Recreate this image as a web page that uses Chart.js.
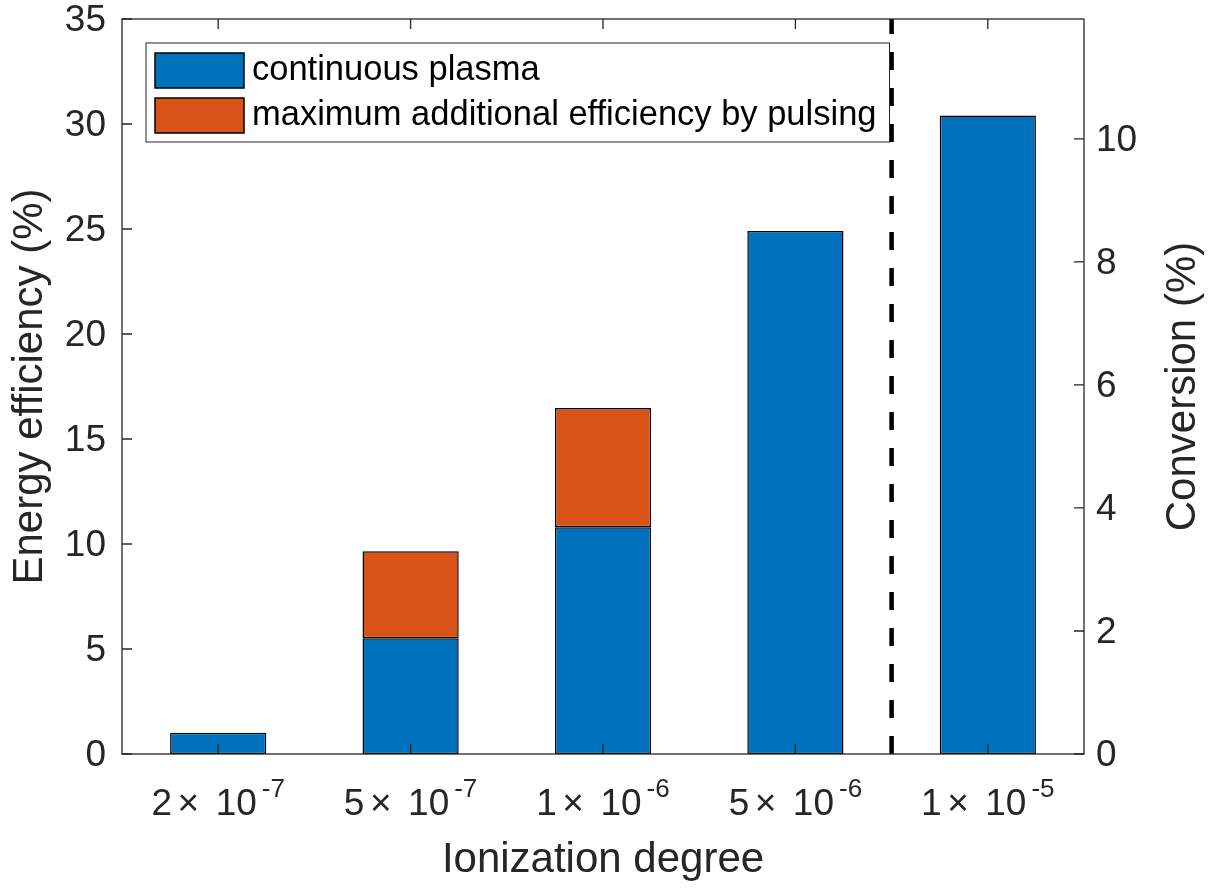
<!DOCTYPE html>
<html><head><meta charset="utf-8">
<script src="https://cdn.jsdelivr.net/npm/chart.js@4/dist/chart.umd.min.js"></script>
<style>html,body{margin:0;padding:0;background:#fff;} canvas{display:block;}</style>
</head><body>
<canvas id="c" width="1215" height="888"></canvas>
<script>
// ---- data ----
const categories = ['2×10^-7', '5×10^-7', '1×10^-6', '5×10^-6', '1×10^-5'];
const tickMantissas = ['2', '5', '1', '5', '1'];
const tickExponents = ['-7', '-7', '-6', '-6', '-5'];
const continuousPlasma = [1.01, 5.51, 10.8, 24.9, 30.4];
const pulsingExtra = [null, 4.14, 5.68, null, null];
const seriesNames = ['continuous plasma', 'maximum additional efficiency by pulsing'];
const leftAxisRange = [0, 35];
const leftAxisStep = 5;
const rightAxisRange = [0, 11.95];
const rightAxisStep = 2;
const separatorAt = 3.5; // between 5×10^-6 and 1×10^-5 (category index units)

// ---- style ----
const FONT = '"Liberation Sans", Arial, Helvetica, sans-serif';
const AXIS = '#262626';
const BLUE = '#0072BD';
const ORANGE = '#D95319';

const overlay = {
  id: 'overlay',
  afterDatasetsDraw(chart) {
    const { ctx, chartArea: a, scales } = chart;
    const x = scales.x, yl = scales.y, yr = scales.y2;
    ctx.save();
    // dashed separator line
    const sx = x.getPixelForValue(separatorAt);
    ctx.beginPath();
    ctx.setLineDash([18, 18]);
    ctx.lineWidth = 4.5;
    ctx.strokeStyle = '#000';
    ctx.moveTo(sx, a.bottom);
    ctx.lineTo(sx, a.top);
    ctx.stroke();
    ctx.setLineDash([]);

    // frame + inward ticks
    ctx.lineWidth = 1.3;
    ctx.strokeStyle = AXIS;
    ctx.strokeRect(a.left, a.top, a.right - a.left, a.bottom - a.top);
    ctx.beginPath();
    const TL = 10;
    yl.ticks.forEach(t => { const p = yl.getPixelForValue(t.value); ctx.moveTo(a.left, p); ctx.lineTo(a.left + TL, p); });
    yr.ticks.forEach(t => { const p = yr.getPixelForValue(t.value); ctx.moveTo(a.right, p); ctx.lineTo(a.right - TL, p); });
    x.ticks.forEach((t, i) => {
      const p = x.getPixelForTick(i);
      ctx.moveTo(p, a.bottom); ctx.lineTo(p, a.bottom - TL);
      ctx.moveTo(p, a.top); ctx.lineTo(p, a.top + TL);
    });
    ctx.stroke();

    // x tick labels with superscript exponents
    const mainF = `37px ${FONT}`, supF = `26px ${FONT}`;
    const baseY = a.bottom + 61, supY = baseY - 18;
    ctx.fillStyle = AXIS;
    ctx.textBaseline = 'alphabetic';
    ctx.textAlign = 'left';
    x.ticks.forEach((t, i) => {
      const p = x.getPixelForTick(i);
      const m = tickMantissas[i], e = tickExponents[i];
      ctx.font = mainF;
      const wm = ctx.measureText(m).width, wx = ctx.measureText('×').width, w10 = ctx.measureText('10').width;
      ctx.font = supF;
      const ws = ctx.measureText(e).width;
      const g1 = 5.5, g2 = 16.5, g3 = 5;
      const total = wm + g1 + wx + g2 + w10 + g3 + ws;
      let cx = p - total / 2;
      ctx.font = mainF;
      ctx.fillText(m, cx, baseY); cx += wm + g1;
      ctx.fillText('×', cx, baseY); cx += wx + g2;
      ctx.fillText('10', cx, baseY); cx += w10 + g3;
      ctx.font = supF;
      ctx.fillText(e, cx, supY);
    });

    // right axis title (reads bottom to top)
    ctx.save();
    ctx.translate(1195, (a.top + a.bottom) / 2);
    ctx.rotate(-Math.PI / 2);
    ctx.font = `42px ${FONT}`;
    ctx.textAlign = 'center';
    ctx.textBaseline = 'alphabetic';
    ctx.fillStyle = AXIS;
    ctx.fillText('Conversion (%)', 0, 0);
    ctx.restore();

    // legend
    const ds = chart.data.datasets;
    const lx = a.left + 24, ly = a.top + 24;
    const swX = lx + 9, swW = 89, swH = 35, rowH = 45, txX = lx + 106;
    ctx.font = `34.5px ${FONT}`;
    let maxW = 0;
    ds.forEach(d => { maxW = Math.max(maxW, ctx.measureText(d.label).width); });
    const lw = (txX - lx) + maxW + 13, lh = 99;
    ctx.fillStyle = '#fff';
    ctx.fillRect(lx, ly, lw, lh);
    ctx.lineWidth = 1;
    ctx.strokeStyle = AXIS;
    ctx.strokeRect(lx, ly, lw, lh);
    ds.forEach((d, i) => {
      const sy = ly + 10 + i * rowH;
      ctx.fillStyle = d.backgroundColor;
      ctx.fillRect(swX, sy, swW, swH);
      ctx.lineWidth = 1.5;
      ctx.strokeStyle = '#000';
      ctx.strokeRect(swX, sy, swW, swH);
      ctx.fillStyle = '#000';
      ctx.textBaseline = 'middle';
      ctx.textAlign = 'left';
      ctx.fillText(d.label, txX, sy + swH / 2);
    });
    ctx.restore();
  }
};

function fixVertical(width) {
  return function (s) { s.width = width; s.paddingTop = 0; s.paddingBottom = 0; };
}

new Chart(document.getElementById('c'), {
  type: 'bar',
  data: {
    labels: categories,
    datasets: [
      { label: seriesNames[0], data: continuousPlasma, backgroundColor: BLUE, borderColor: '#000', borderWidth: 1.5, borderSkipped: false, barPercentage: 0.5, categoryPercentage: 1, stack: 's' },
      { label: seriesNames[1], data: pulsingExtra, backgroundColor: ORANGE, borderColor: '#000', borderWidth: 1.5, borderSkipped: false, barPercentage: 0.5, categoryPercentage: 1, stack: 's' }
    ]
  },
  options: {
    responsive: false,
    animation: false,
    devicePixelRatio: 1,
    layout: { padding: { top: 19, left: 0, right: 0, bottom: 0 } },
    plugins: { legend: { display: false }, tooltip: { enabled: false } },
    scales: {
      x: {
        stacked: true,
        grid: { display: false, drawTicks: false },
        border: { display: false },
        ticks: { display: false },
        title: { display: true, text: 'Ionization degree', color: AXIS, font: { family: FONT, size: 42 }, padding: { top: 0, bottom: 2 } },
        afterFit(s) { s.height = 134; s.paddingLeft = 0; s.paddingRight = 0; }
      },
      y: {
        stacked: true,
        position: 'left',
        min: leftAxisRange[0], max: leftAxisRange[1],
        grid: { display: false, drawTicks: false },
        border: { display: false },
        ticks: { stepSize: leftAxisStep, color: AXIS, padding: 16, labelOffset: 2, font: { family: FONT, size: 37, lineHeight: 1 } },
        title: { display: true, text: 'Energy efficiency (%)', color: AXIS, font: { family: FONT, size: 42 }, padding: { top: 5, bottom: 0 } },
        afterFit: fixVertical(122)
      },
      y2: {
        type: 'linear',
        axis: 'y',
        position: 'right',
        min: rightAxisRange[0], max: rightAxisRange[1],
        grid: { display: false, drawTicks: false },
        border: { display: false },
        ticks: { stepSize: rightAxisStep, includeBounds: false, color: AXIS, padding: 12, labelOffset: 2, font: { family: FONT, size: 37, lineHeight: 1 } },
        afterFit: fixVertical(131)
      }
    }
  },
  plugins: [overlay]
});
</script>
</body></html>
